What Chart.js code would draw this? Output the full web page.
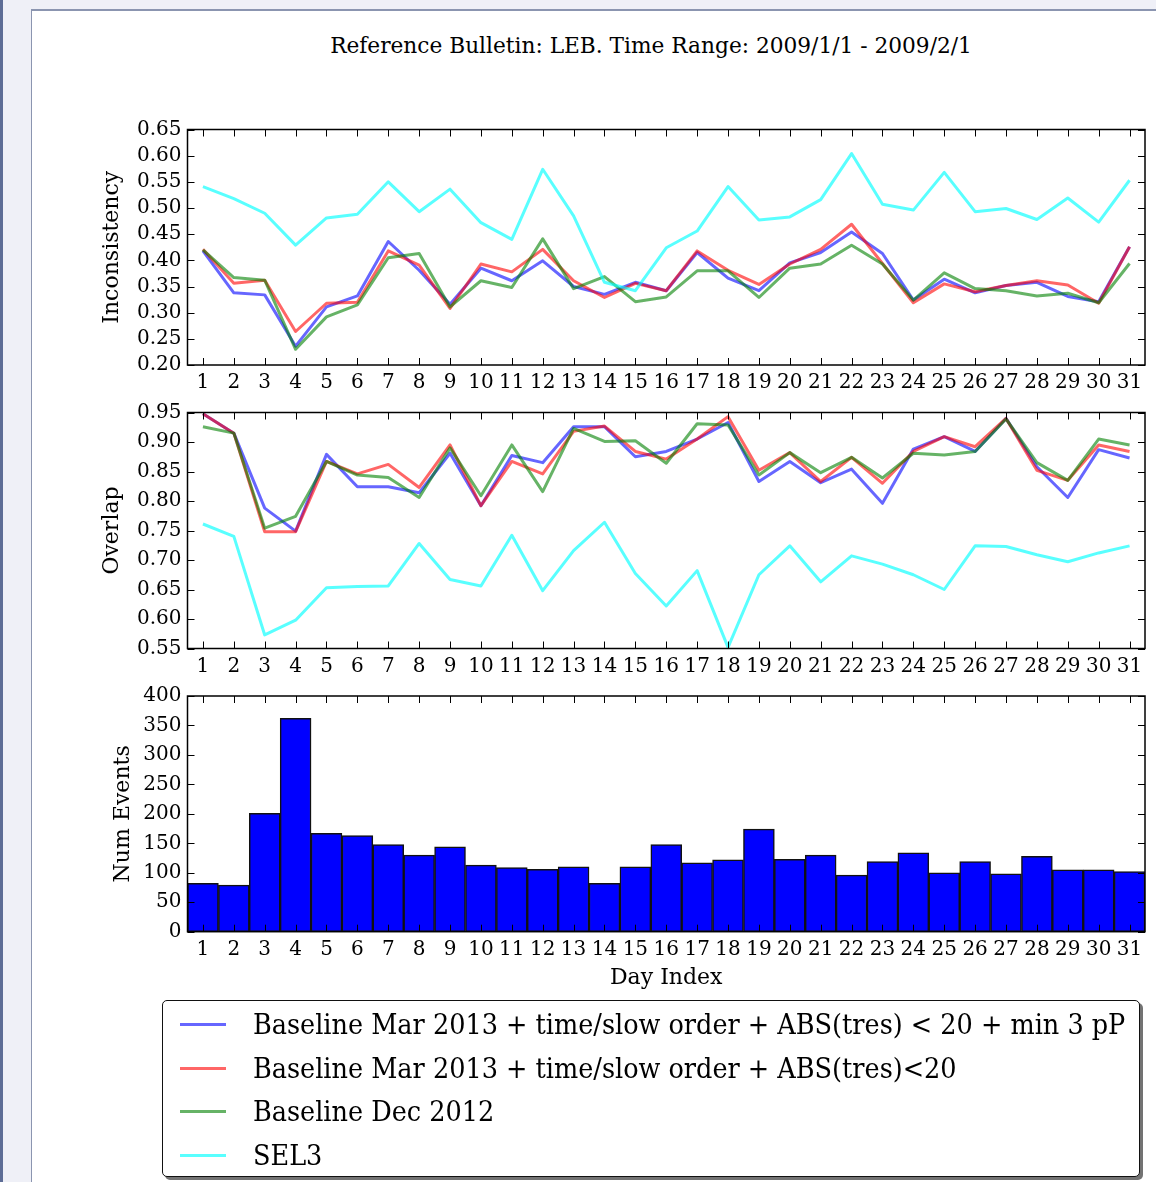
<!DOCTYPE html>
<html>
<head>
<meta charset="utf-8">
<script src="https://cdn.jsdelivr.net/npm/chart.js@4/dist/chart.umd.min.js"></script>
<style>
  html, body { margin: 0; padding: 0; }
  body { width: 1156px; height: 1182px; overflow: hidden; position: relative; background: #eff0f7; font-family: "DejaVu Serif", serif; }
  #edge { position: absolute; left: 0; top: 0; width: 3px; height: 1182px; background: #5d6d96; }
  #sheet { position: absolute; left: 31px; top: 9px; width: 1200px; height: 1300px; background: #fff; border-left: 1px solid #8b95b0; border-top: 2px solid #8b95b0; }
  canvas { position: absolute; left: 0; top: 0; pointer-events: none; }
  #title { position: absolute; left: 0; width: 1302px; top: 32px; text-align: center; font-size: 21.7px; line-height: 28px; color: #000; white-space: nowrap; }
  #legend { position: absolute; left: 162px; top: 1000px; width: 976px; height: 175px; border: 1.5px solid #111; border-radius: 5px; background: #fff; box-shadow: 3px 3px 0 rgba(0,0,0,0.55); }
  .row { position: absolute; left: 0; height: 0; }
  .swatch { position: absolute; left: 17px; width: 46px; height: 3px; top: -1.5px; }
  .label { position: absolute; left: 90px; top: -17px; font-family: "DejaVu Serif Condensed", "DejaVu Serif", serif; font-size: 28.4px; line-height: 36px; white-space: nowrap; color: #000; }
</style>
</head>
<body>
<div id="edge"></div>
<div id="sheet"></div>
<div id="title">Reference Bulletin: LEB. Time Range: 2009/1/1 - 2009/2/1</div>
<canvas id="inconsistencyChart" width="1156" height="1182"></canvas>
<canvas id="overlapChart" width="1156" height="1182"></canvas>
<canvas id="eventsChart" width="1156" height="1182"></canvas>
<div id="legend"></div>
<script>
// Day index categories
const days = ['1','2','3','4','5','6','7','8','9','10','11','12','13','14','15','16',
              '17','18','19','20','21','22','23','24','25','26','27','28','29','30','31'];

// Series names and colours
const seriesNames = [
  'Baseline Mar 2013 + time/slow order + ABS(tres) < 20 + min 3 pP',
  'Baseline Mar 2013 + time/slow order + ABS(tres)<20',
  'Baseline Dec 2012',
  'SEL3'
];
const seriesColors = ['rgba(0,0,255,0.6)', 'rgba(255,0,0,0.6)', 'rgba(0,128,0,0.6)', 'rgba(0,255,255,0.65)'];

// Inconsistency per day
const inconsistencyMin3pP = [0.418,0.338,0.334,0.236,0.311,0.332,0.436,0.381,0.316,0.385,0.361,0.399,0.350,0.335,0.358,
                             0.342,0.415,0.366,0.342,0.395,0.415,0.454,0.413,0.324,0.364,0.338,0.352,0.358,0.331,0.321,0.426];
const inconsistencyTres20 = [0.421,0.356,0.362,0.264,0.318,0.320,0.418,0.391,0.308,0.393,0.378,0.421,0.361,0.329,0.356,
                             0.342,0.418,0.381,0.354,0.393,0.421,0.469,0.394,0.319,0.355,0.340,0.352,0.361,0.353,0.318,0.426];
const inconsistencyDec2012 = [0.420,0.367,0.362,0.230,0.292,0.315,0.405,0.413,0.311,0.361,0.348,0.441,0.346,0.369,0.321,
                              0.330,0.380,0.380,0.329,0.385,0.393,0.429,0.393,0.324,0.376,0.346,0.342,0.332,0.337,0.319,0.394];
const inconsistencySel3 = [0.541,0.518,0.490,0.429,0.481,0.488,0.550,0.493,0.536,0.472,0.440,0.574,0.485,0.358,0.342,
                           0.424,0.456,0.541,0.477,0.483,0.516,0.604,0.507,0.496,0.568,0.493,0.499,0.478,0.519,0.473,0.553];

// Overlap per day
const overlapMin3pP = [0.948,0.915,0.788,0.749,0.879,0.824,0.824,0.814,0.881,0.792,0.877,0.865,0.926,0.926,0.875,
                       0.884,0.905,0.933,0.833,0.867,0.831,0.854,0.796,0.888,0.909,0.884,0.940,0.858,0.806,0.887,0.873];
const overlapTres20 = [0.948,0.915,0.748,0.748,0.867,0.846,0.862,0.823,0.895,0.792,0.867,0.846,0.918,0.927,0.884,
                       0.871,0.905,0.943,0.852,0.882,0.833,0.874,0.830,0.884,0.909,0.892,0.940,0.852,0.835,0.895,0.884];
const overlapDec2012 = [0.926,0.915,0.754,0.774,0.867,0.844,0.840,0.806,0.890,0.809,0.895,0.816,0.923,0.901,0.902,
                        0.864,0.931,0.929,0.844,0.882,0.848,0.874,0.839,0.881,0.878,0.884,0.939,0.865,0.835,0.905,0.895];
const overlapSel3 = [0.761,0.740,0.573,0.598,0.653,0.655,0.656,0.728,0.667,0.656,0.742,0.648,0.716,0.764,0.677,
                     0.622,0.682,0.552,0.675,0.724,0.663,0.707,0.693,0.675,0.650,0.724,0.723,0.709,0.697,0.712,0.724];

// Number of events per day
const numEvents = [82,79,201,362,167,163,148,130,144,113,109,106,110,82,110,
                   148,117,122,174,123,130,96,119,134,100,119,98,128,105,105,102];

// Axis tick values
const inconsistencyTicks = [0.20,0.25,0.30,0.35,0.40,0.45,0.50,0.55,0.60,0.65];
const overlapTicks = [0.55,0.60,0.65,0.70,0.75,0.80,0.85,0.90,0.95];
const eventTicks = [0,50,100,150,200,250,300,350,400];

const tickFont = { family: 'DejaVu Serif', size: 20 };
const titleFont = { family: 'DejaVu Serif', size: 22, lineHeight: 1.2 };

// Boxed axes with inward ticks on all four sides
const frameTicks = {
  id: 'frameTicks',
  afterDraw(chart) {
    const { ctx, chartArea: a } = chart;
    const len = 7;
    ctx.save();
    ctx.strokeStyle = '#000';
    ctx.lineWidth = 1;
    ctx.beginPath();
    const xs = chart.scales.x, ys = chart.scales.y;
    xs.ticks.forEach((t, i) => {
      const x = Math.round(xs.getPixelForTick(i)) + 0.5;
      ctx.moveTo(x, a.bottom); ctx.lineTo(x, a.bottom - len);
      ctx.moveTo(x, a.top); ctx.lineTo(x, a.top + len);
    });
    ys.ticks.forEach((t, i) => {
      const y = Math.round(ys.getPixelForTick(i)) + 0.5;
      ctx.moveTo(a.left, y); ctx.lineTo(a.left + len, y);
      ctx.moveTo(a.right, y); ctx.lineTo(a.right - len, y);
    });
    ctx.stroke();
    ctx.lineWidth = 1.5;
    ctx.strokeRect(a.left, a.top, a.right - a.left, a.bottom - a.top);
    ctx.restore();
  }
};

function lineDatasets(values) {
  return values.map((v, i) => ({
    label: seriesNames[i],
    data: v,
    borderColor: seriesColors[i],
    backgroundColor: seriesColors[i],
    borderWidth: 3,
    pointRadius: 0,
    tension: 0,
    borderJoinStyle: 'round',
    order: values.length - i
  }));
}

function panel(canvasId, type, datasets, yTicks, yLabel, fmt, box, xTitle) {
  const W = 1156, H = 1182;
  return new Chart(document.getElementById(canvasId), {
    type,
    data: { labels: days, datasets },
    plugins: [frameTicks],
    options: {
      responsive: false,
      animation: false,
      devicePixelRatio: 1,
      events: [],
      layout: { padding: { left: box.titleLeft, right: W - box.right, top: box.top, bottom: H - box.bottom - box.xh } },
      plugins: { legend: { display: false }, tooltip: { enabled: false }, title: { display: false } },
      scales: {
        x: {
          type: 'category',
          offset: true,
          grid: { display: false, drawTicks: false },
          border: { display: false },
          ticks: { font: tickFont, color: '#000', padding: 6, maxRotation: 0, autoSkip: false },
          title: xTitle ? { display: true, text: xTitle, font: titleFont, color: '#000', padding: { top: 0, bottom: 0 } } : { display: false },
          afterFit(s) { s.height = box.xh; }
        },
        y: {
          min: yTicks[0],
          max: yTicks[yTicks.length - 1],
          grid: { display: false, drawTicks: false },
          border: { display: false },
          afterBuildTicks(s) { s.ticks = yTicks.map(v => ({ value: v })); },
          ticks: { font: tickFont, color: '#000', padding: 6, autoSkip: false, callback: v => fmt(v) },
          title: { display: true, text: yLabel, font: titleFont, color: '#000', padding: { top: 0, bottom: 0 } },
          afterFit(s) { s.width = box.left - box.titleLeft; }
        }
      }
    }
  });
}

panel('inconsistencyChart', 'line',
  lineDatasets([inconsistencyMin3pP, inconsistencyTres20, inconsistencyDec2012, inconsistencySel3]),
  inconsistencyTicks, 'Inconsistency', v => v.toFixed(2),
  { titleLeft: 98.8, left: 187.5, right: 1145, top: 129.5, bottom: 365, xh: 40 });

panel('overlapChart', 'line',
  lineDatasets([overlapMin3pP, overlapTres20, overlapDec2012, overlapSel3]),
  overlapTicks, 'Overlap', v => v.toFixed(2),
  { titleLeft: 98.8, left: 187.5, right: 1145, top: 412.5, bottom: 648.5, xh: 40 });

panel('eventsChart', 'bar',
  [{
    label: 'Num Events',
    data: numEvents,
    backgroundColor: '#0000ff',
    borderColor: '#111',
    borderWidth: 1.5,
    borderSkipped: false,
    barPercentage: 1,
    categoryPercentage: 1
  }],
  eventTicks, 'Num Events', v => String(v),
  { titleLeft: 109.8, left: 187.5, right: 1145, top: 696, bottom: 931.7, xh: 60 }, 'Day Index');

// Legend built from the series definitions
const legend = document.getElementById('legend');
const rowTops = [23, 67, 110, 154];
seriesNames.forEach((name, i) => {
  const row = document.createElement('div');
  row.className = 'row';
  row.style.top = rowTops[i] + 'px';
  const sw = document.createElement('div');
  sw.className = 'swatch';
  sw.style.background = seriesColors[i];
  const lb = document.createElement('div');
  lb.className = 'label';
  lb.textContent = name;
  row.appendChild(sw);
  row.appendChild(lb);
  legend.appendChild(row);
});
</script>
</body>
</html>
